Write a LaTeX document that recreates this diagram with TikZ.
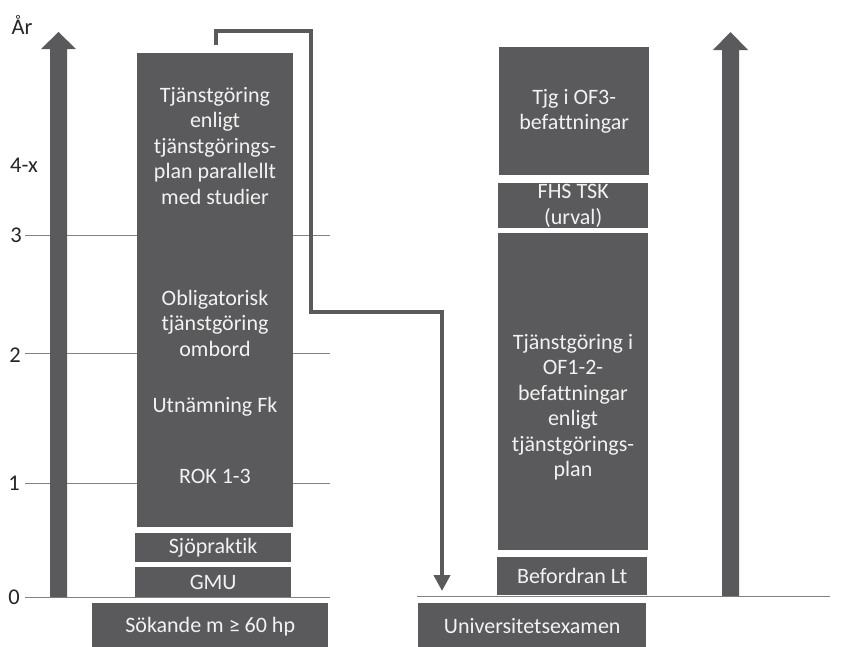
\documentclass[tikz,border=0pt]{standalone}
\usepackage{fontspec}
\setmainfont[Ligatures=NoCommon]{Carlito}
\usetikzlibrary{arrows.meta}
\definecolor{boxgray}{RGB}{90,90,92}
\definecolor{gridgray}{RGB}{130,130,130}
\tikzset{
  blk/.style={fill=boxgray, draw=none, text=white!95!black, align=center, inner sep=0pt,
    font=\fontsize{22}{25.5}\selectfont},
  axlab/.style={text=black!85, font=\fontsize{22.5}{26}\selectfont, inner sep=0pt},
  gridln/.style={draw=gridgray, line width=0.9pt},
  bigarrow/.style={draw=none, fill=boxgray},
  conn/.style={draw=boxgray, line width=4pt, -{Triangle[width=16pt,length=16pt]}}
}
\begin{document}
\begin{tikzpicture}[x=1pt,y=-1pt]
\useasboundingbox (0,0) rectangle (841,646);
\fill[white] (0,0) rectangle (841,646);
% grid lines
\draw[gridln] (25,235) -- (330,235);
\draw[gridln] (25,353) -- (330,353);
\draw[gridln] (25,483) -- (330,483);
\draw[gridln] (25,597) -- (330,597);
\draw[gridln] (417,596) -- (830,596);
% axis labels
\node[axlab] (ar) at (22,25) {År};
\node[axlab] (l4) at (24,165) {4-x};
\node[axlab] (l3) at (16,235) {3};
\node[axlab] (l2) at (15,355) {2};
\node[axlab] (l1) at (14,483) {1};
\node[axlab] (l0) at (14,597) {0};
% left big arrow
\path[bigarrow] (50,597) -- (50,49) -- (41,49) -- (58.5,32) -- (76,49) -- (67,49) -- (67,597) -- cycle;
% right big arrow
\path[bigarrow] (722,596) -- (722,50) -- (713,50) -- (730.5,32) -- (748,50) -- (739,50) -- (739,596) -- cycle;
% left boxes
\node[blk, minimum width=156pt, minimum height=474pt, anchor=north west] (main) at (137,53) {};
\node[blk] (t1) at (215,146) {Tjänstgöring\\enligt\\tjänstgörings-\\plan parallellt\\med studier};
\node[blk] (t2) at (215,323) {Obligatorisk\\tjänstgöring\\ombord};
\node[blk] (t3) at (215,407) {Utnämning Fk};
\node[blk] (t4) at (215,476) {ROK 1-3};
\node[blk, minimum width=156pt, minimum height=29pt, anchor=north west] (sjo) at (135,533) {Sjöpraktik};
\node[blk, minimum width=156pt, minimum height=30pt, anchor=north west] (gmu) at (135,567) {GMU};
\node[blk, minimum width=236pt, minimum height=46pt, anchor=north west] (sok) at (92,603) {Sökande m ≥ 60 hp};
% right boxes
\node[blk, minimum width=150pt, minimum height=128pt, anchor=north west] (of3) at (499,47) {Tjg i OF3-\\befattningar};
\node[blk, minimum width=150pt, minimum height=45pt, anchor=north west] (fhs) at (498,183) {FHS TSK\\(urval)};
\node[blk, minimum width=150pt, minimum height=317pt, anchor=north west] (of12) at (498,233) {};
\node[blk] (of12t) at (573,407) {Tjänstgöring i\\OF1-2-\\befattningar\\enligt\\tjänstgörings-\\plan};
\node[blk, minimum width=150pt, minimum height=38pt, anchor=north west] (lt) at (497,557) {Befordran Lt};
\node[blk, minimum width=228pt, minimum height=46pt, anchor=north west] (uni) at (418,603) {Universitetsexamen};
% connector
\coordinate (cs) at (216,45);
\coordinate (ce) at (442,591);
\draw[conn] (cs) -- (216,31) -- (311,31) -- (311,312) -- (442,312) -- (ce);
\end{tikzpicture}
\end{document}
